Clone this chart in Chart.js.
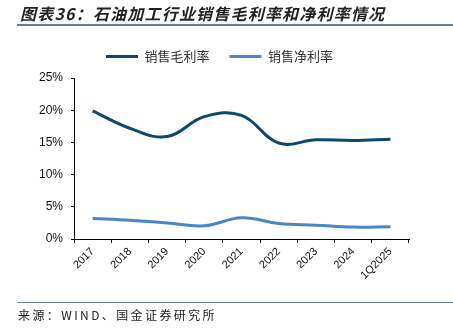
<!DOCTYPE html>
<html>
<head>
<meta charset="utf-8">
<script src="https://cdn.jsdelivr.net/npm/chart.js@4/dist/chart.umd.min.js"></script>
<style>
  html, body { margin: 0; padding: 0; background: #fff; }
  #wrap { position: relative; width: 453px; height: 333px; overflow: hidden; }
  #title {
    position: absolute; left: 20px; top: 1px; letter-spacing: 1.2px;
    font: italic bold 16px "Noto Sans CJK SC", sans-serif; color: #222;
  }
  #rule-top { position: absolute; left: 17px; right: 0; top: 24px; height: 2px; background: #5f8297; }
  #rule-bottom { position: absolute; left: 17px; right: 0; top: 302px; height: 1px; background: #5f8297; }
  #source {
    position: absolute; left: 18px; top: 306px; letter-spacing: 2.4px;
    font: 12px "Noto Sans CJK SC", sans-serif; color: #222;
  }
  canvas { position: absolute; left: 0; top: 0; }
</style>
</head>
<body>
<div id="wrap">
  <canvas id="chart" width="453" height="333"></canvas>
  <div id="title">图表36：石油加工行业销售毛利率和净利率情况</div>
  <div id="rule-top"></div>
  <div id="rule-bottom"></div>
  <div id="source">来源：WIND、国金证券研究所</div>
</div>
<script>
// categories and series (%)
const years = ["2017", "2018", "2019", "2020", "2021", "2022", "2023", "2024", "1Q2025"];
const grossMargin = [19.9, 17.2, 15.9, 19.0, 19.2, 14.9, 15.4, 15.3, 15.5];
const netMargin = [3.2, 2.9, 2.5, 2.05, 3.3, 2.4, 2.15, 1.85, 1.9];
const yTicks = [0, 5, 10, 15, 20, 25];

const ctx = document.getElementById("chart").getContext("2d");

// extra space under the legend
const legendGap = {
  id: "legendGap",
  afterInit(chart) {
    const fit = chart.legend.fit;
    chart.legend.fit = function () {
      fit.call(this);
      this.height += 5;
    };
  },
};

new Chart(ctx, {
  type: "line",
  data: {
    labels: years,
    datasets: [
      {
        label: "销售毛利率",
        data: grossMargin,
        borderColor: "#0b4a6e",
        backgroundColor: "#0b4a6e",
        borderWidth: 3,
        tension: 0.4,
        pointRadius: 0,
      },
      {
        label: "销售净利率",
        data: netMargin,
        borderColor: "#4a86c6",
        backgroundColor: "#4a86c6",
        borderWidth: 3,
        tension: 0.4,
        pointRadius: 0,
      },
    ],
  },
  options: {
    responsive: false,
    animation: false,
    layout: { padding: { left: 30, right: 44, top: 30, bottom: 40 } },
    plugins: {
      legend: {
        position: "top",
        labels: {
          usePointStyle: true,
          pointStyle: "line",
          pointStyleWidth: 32,
          boxHeight: 3,
          padding: 20,
          color: "#333",
          font: { family: "'Noto Sans CJK SC'", size: 13 },
        },
      },
      tooltip: { enabled: false },
    },
    scales: {
      x: {
        offset: true,
        border: { color: "#000", width: 1 },
        grid: { drawOnChartArea: false, drawTicks: true, tickLength: 4, color: "#000", offset: true },
        ticks: {
          color: "#111",
          maxRotation: 45,
          minRotation: 45,
          font: { family: "'Liberation Sans'", size: 11 },
          padding: 2,
        },
        afterFit: (s) => { s.height = 54; },
      },
      y: {
        min: 0,
        max: 25,
        afterBuildTicks: (s) => { s.ticks = yTicks.map((v) => ({ value: v })); },
        border: { color: "#000", width: 1 },
        grid: { drawOnChartArea: false, drawTicks: true, tickLength: 3, color: "#000" },
        ticks: {
          color: "#111",
          padding: 8,
          font: { family: "'Liberation Sans'", size: 12 },
          callback: (v) => v + "%",
        },
        afterFit: (s) => { s.width = 44; },
      },
    },
  },
  plugins: [legendGap],
});
</script>
</body>
</html>
